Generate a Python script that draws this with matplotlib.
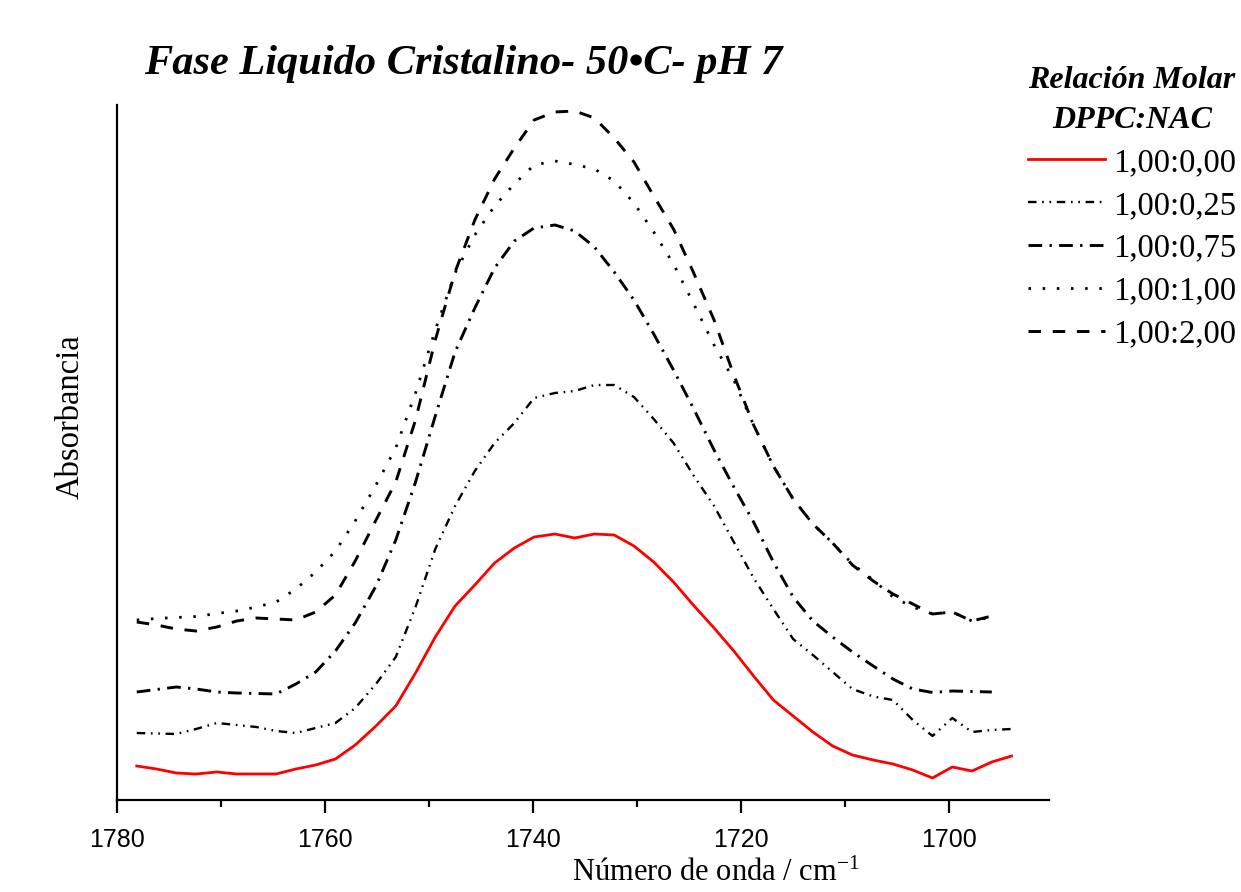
import numpy as np
import matplotlib
matplotlib.use("Agg")
import matplotlib.pyplot as plt
from matplotlib.ticker import MultipleLocator

plt.rcParams['mathtext.fontset'] = 'custom'
plt.rcParams['mathtext.rm'] = 'Liberation Serif'
plt.rcParams['mathtext.it'] = 'Liberation Serif:italic'

# Wavenumber (cm^-1)
wavenumber = [1778.1, 1776.2, 1774.3, 1772.4, 1770.4, 1768.5, 1766.6, 1764.7, 1762.8, 1760.9,
              1759.0, 1757.1, 1755.1, 1753.2, 1751.3, 1749.4, 1747.5, 1745.6, 1743.7, 1741.8,
              1739.9, 1737.9, 1736.0, 1734.1, 1732.2, 1730.3, 1728.4, 1726.5, 1724.6, 1722.6,
              1720.7, 1718.8, 1716.9, 1715.0, 1713.1, 1711.2, 1709.3, 1707.3, 1705.4, 1703.5,
              1701.6, 1699.7, 1697.8, 1695.9, 1694.0]

nan = np.nan
abs_000 = [0.034, 0.031, 0.027, 0.026, 0.028, 0.026, 0.026, 0.026, 0.031, 0.035,
           0.041, 0.055, 0.074, 0.094, 0.127, 0.163, 0.194, 0.215, 0.237, 0.252,
           0.263, 0.266, 0.262, 0.266, 0.265, 0.254, 0.238, 0.218, 0.195, 0.172,
           0.149, 0.124, 0.100, 0.084, 0.068, 0.054, 0.045, 0.040, 0.036, 0.030,
           0.022, 0.033, 0.029, 0.038, 0.044]
abs_025 = [0.067, 0.0665, 0.066, 0.071, 0.077, 0.075, 0.073, 0.069, 0.067, 0.072,
           0.077, 0.092, 0.116, 0.143, 0.193, 0.251, 0.294, 0.329, 0.357, 0.377,
           0.402, 0.407, 0.409, 0.415, 0.415, 0.403, 0.381, 0.357, 0.325, 0.294,
           0.258, 0.222, 0.191, 0.161, 0.145, 0.128, 0.111, 0.1035, 0.100, 0.080,
           0.064, 0.082, 0.068, 0.070, 0.071]
abs_075 = [0.108, 0.1105, 0.113, 0.111, 0.108, 0.107, 0.1065, 0.106, 0.116, 0.128,
           0.149, 0.177, 0.214, 0.260, 0.318, 0.384, 0.448, 0.492, 0.532, 0.559,
           0.572, 0.575, 0.569, 0.553, 0.528, 0.500, 0.466, 0.430, 0.392, 0.350,
           0.313, 0.278, 0.238, 0.203, 0.179, 0.163, 0.148, 0.134, 0.121, 0.111,
           0.1075, 0.109, 0.1085, 0.108, nan]
abs_100 = [0.180, 0.1815, 0.1825, 0.1835, 0.1865, 0.189, 0.193, 0.198, 0.211, 0.228,
           0.249, 0.279, 0.315, 0.352, 0.407, 0.470, 0.527, 0.565, 0.594, 0.616,
           0.635, 0.639, 0.6355, 0.631, 0.619, 0.597, 0.568, 0.536, 0.497, 0.455,
           0.420, 0.375, 0.334, 0.301, 0.276, 0.257, 0.236, 0.220, 0.203, 0.193,
           0.186, 0.188, 0.179, 0.183, nan]
abs_200 = [0.178, 0.175, 0.171, 0.169, 0.173, 0.179, 0.182, 0.181, 0.180, 0.188,
           0.205, 0.239, 0.280, 0.318, 0.380, 0.460, 0.528, 0.580, 0.621, 0.652,
           0.680, 0.688, 0.689, 0.682, 0.662, 0.638, 0.604, 0.571, 0.528, 0.480,
           0.425, 0.375, 0.334, 0.301, 0.276, 0.257, 0.235, 0.219, 0.206, 0.196,
           0.186, 0.188, 0.179, 0.184, nan]

labels = ["1,00:0,00", "1,00:0,25", "1,00:0,75", "1,00:1,00", "1,00:2,00"]

fig = plt.figure(figsize=(12.41, 8.92), dpi=100)
ax = fig.add_axes([117/1241, 1 - 800/892, (1049 - 117)/1241, (800 - 105)/892])

ax.plot(wavenumber, abs_000, color='red', lw=2.0, ls='-', label=labels[0])
ax.plot(wavenumber, abs_025, color='black', lw=1.7, ls=(0, (3.6, 2.4, 0.7, 2.4, 0.7, 2.4)), label=labels[1])
ax.plot(wavenumber, abs_075, color='black', lw=2.1, ls=(0, (4.7, 2.5, 0.8, 2.5)), label=labels[2])
ax.plot(wavenumber, abs_100, color='black', lw=2.0, ls=(0, (0.9, 4.2)), label=labels[3])
ax.plot(wavenumber, abs_200, color='black', lw=2.1, ls=(0, (4.3, 4.0)), label=labels[4])

ax.set_xlim(1780, 1690.4)
ax.set_ylim(0, 0.695)
ax.spines['top'].set_visible(False)
ax.spines['right'].set_visible(False)
for s in ('left', 'bottom'):
    ax.spines[s].set_linewidth(1.6)
ax.set_yticks([])
ax.xaxis.set_major_locator(MultipleLocator(20))
ax.xaxis.set_minor_locator(MultipleLocator(10))
ax.tick_params(axis='x', which='major', direction='out', length=9, width=1.6,
               labelsize=18, pad=11)
ax.tick_params(axis='x', which='minor', direction='out', length=5, width=1.6)
for t in ax.get_xticklabels():
    t.set_fontfamily('Liberation Sans')

fig.text(463/1241, 1 - 64/892, "Fase Liquido Cristalino- 50•C- pH 7",
         family='Liberation Serif', weight='bold', style='italic', fontsize=30.5,
         ha='center', va='center')
fig.text(716/1241, 1 - 881/892, r"Número de onda / cm$^{-1}$",
         family='Liberation Serif', fontsize=22, ha='center', va='baseline')
fig.text(70/1241, 1 - 417/892, "Absorbancia", family='Liberation Serif',
         fontsize=23.5, rotation=90, ha='center', va='center')

leg = ax.legend(loc='upper right', bbox_to_anchor=(1236/1241, 1 - 66/892),
                bbox_transform=fig.transFigure, frameon=False,
                title="Relación Molar\nDPPC:NAC",
                prop={'family': 'Liberation Serif', 'size': 23.5},
                handlelength=2.35, handletextpad=0.25, labelspacing=0.38,
                borderaxespad=0, borderpad=0)
tt = leg.get_title()
tt.set_fontfamily('Liberation Serif')
tt.set_fontweight('bold')
tt.set_fontstyle('italic')
tt.set_fontsize(23)
tt.set_multialignment('center')
tt.set_linespacing(1.5)

fig.savefig("out.png", dpi=100)
